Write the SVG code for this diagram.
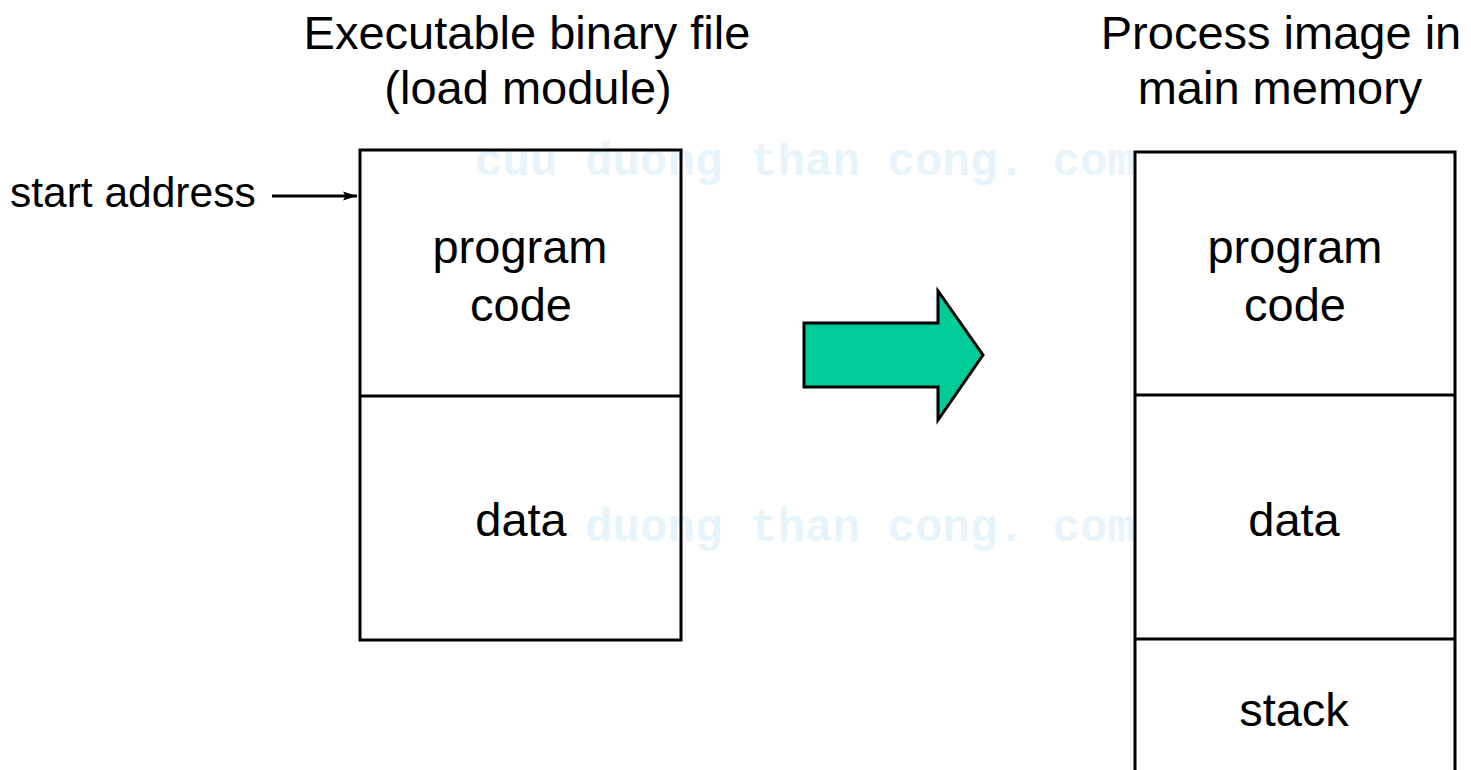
<svg xmlns="http://www.w3.org/2000/svg" width="1471" height="770" viewBox="0 0 1471 770">
<style>
.t{font-family:"Liberation Sans",Arial,sans-serif;fill:#000;text-anchor:middle}
.big{font-size:47px}
.lbl{font-size:47px}
.sa{font-size:42.5px;text-anchor:start}
.wm{font-family:"Liberation Mono","DejaVu Sans Mono",monospace;font-size:46px;font-weight:bold;fill:#e8f4fb}
.box{fill:none;stroke:#000;stroke-width:3}
.ln{stroke:#000;stroke-width:3;fill:none}
</style>
<defs>
<marker id="ah" viewBox="0 0 14 10" refX="14" refY="5" markerWidth="14" markerHeight="10" markerUnits="userSpaceOnUse" orient="auto">
<path d="M0,0.5 L14,5 L0,9.5 L2.5,5 Z" fill="#000"/>
</marker>
</defs>
<rect width="1471" height="770" fill="#fff"/>
<g id="watermark">
<text class="wm" x="475" y="175" textLength="660" lengthAdjust="spacingAndGlyphs">cuu duong than cong. com</text>
<text class="wm" x="585" y="541" textLength="550" lengthAdjust="spacingAndGlyphs">duong than cong. com</text>
</g>
<g id="title-left">
<text class="t big" x="527" y="49">Executable binary file</text>
<text class="t big" x="528" y="104">(load module)</text>
</g>
<g id="title-right">
<text class="t big" x="1281" y="49">Process image in</text>
<text class="t big" x="1280" y="104">main memory</text>
</g>
<g id="load-module">
<rect class="box" x="360" y="150" width="321" height="490"/>
<line class="ln" x1="360" y1="396" x2="681" y2="396"/>
<text class="t lbl" x="520" y="263">program</text>
<text class="t lbl" x="521" y="321">code</text>
<text class="t lbl" x="521" y="536">data</text>
</g>
<g id="process-image">
<rect class="box" x="1135" y="152" width="320" height="640"/>
<line class="ln" x1="1135" y1="395" x2="1455" y2="395"/>
<line class="ln" x1="1135" y1="639" x2="1455" y2="639"/>
<text class="t lbl" x="1295" y="263">program</text>
<text class="t lbl" x="1295" y="321">code</text>
<text class="t lbl" x="1294" y="536">data</text>
<text class="t lbl" x="1294" y="726">stack</text>
</g>
<g id="start-address">
<text class="t sa" x="10" y="207">start address</text>
</g>
<g id="connectors">
<line class="ln" x1="272" y1="196" x2="357" y2="196" stroke-width="2" marker-end="url(#ah)"/>
<polygon points="804,323 938,323 938,291 983,355 938,420 938,387 804,387" fill="#00cc99" stroke="#000" stroke-width="3" stroke-linejoin="miter"/>
</g>
</svg>
